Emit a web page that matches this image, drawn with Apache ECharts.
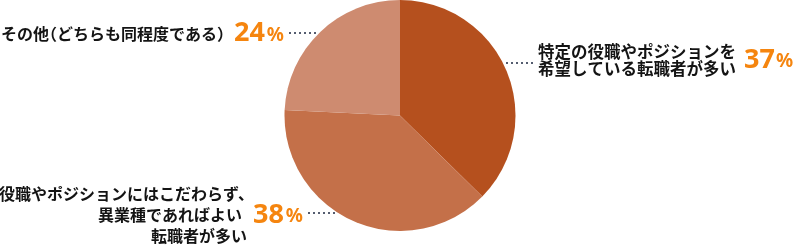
<!DOCTYPE html>
<html><head><meta charset="utf-8">
<script src="https://cdn.jsdelivr.net/npm/echarts@6/dist/echarts.min.js"></script>
<style>html,body{margin:0;padding:0;background:#fff}#c{width:796px;height:245px}</style>
</head><body><div id="c"></div>
<script>
// ---- data ----
const categories = [
  '特定の役職やポジションを\n希望している転職者が多い',
  '役職やポジションにはこだわらず、\n異業種であればよい\n転職者が多い',
  'その他（どちらも同程度である）'
];
const values = [37, 38, 24];
const unit = '%';
const sliceColors = ['#b5501e', '#c47049', '#ce8b70'];

// ---- style / layout ----
const CX = 400, CY = 115.5, R = 115.5;
const ORANGE = '#f5850f';
const TEXT = '#141414';
const JP = '"Noto Sans CJK JP", "Noto Sans", sans-serif';
const NUM = '"Noto Sans", "Liberation Sans", sans-serif';
const LINE_GAP = 3, LINE_LEN = 27, LABEL_GAP = 5;
const layoutCfg = [
  { side: 1, lineY: 63, labelY: 60 },
  { side: -1, lineY: 213, labelY: 215 },
  { side: -1, lineY: 33, labelY: 33.5 }
];

function tok(name, s) {
  return ('{' + name + '|' + s.replace(/（/g, '}{lp|（}{' + name + '|').replace(/）/g, '}{rp|）}{' + name + '|') + '}')
    .replace(new RegExp('\\{' + name + '\\|\\}', 'g'), '');
}
function pct(i, suffix) {
  return '{v' + suffix + '|' + values[i] + '}{p' + suffix + '|' + unit + '}';
}
const formatters = [
  (L, i) => tok('nr', L[0]) + '\n{sz| }' + pct(i, 'z') + '\n' + tok('nr', L[1]),
  (L, i) => tok('nb', L[0]) + '{s1| }\n' + tok('nb', L[1]) + '{g2| }' + pct(i, '') + '\n' + tok('nb', L[2]) + '{s3| }',
  (L, i) => tok('nt', L[0]) + pct(i, '')
];
const labelLH = [17, 21, 26];

const rich = {
  nr: { fontFamily: JP, fontSize: 16.5, fontWeight: 'bold', color: TEXT, lineHeight: 17 },
  nb: { fontFamily: JP, fontSize: 16, fontWeight: 'bold', color: TEXT, lineHeight: 21 },
  nt: { fontFamily: JP, fontSize: 16, fontWeight: 'bold', color: TEXT, lineHeight: 26 },
  lp: { fontFamily: JP, fontSize: 16, fontWeight: 'bold', color: TEXT, width: 8 },
  rp: { fontFamily: JP, fontSize: 16, fontWeight: 'bold', color: TEXT },
  v: { fontFamily: NUM, fontSize: 27, fontWeight: 'bold', color: ORANGE, width: 32 },
  p: { fontFamily: NUM, fontSize: 19, fontWeight: 'bold', color: ORANGE, width: 19, padding: [4, 0, 0, 0] },
  vz: { fontFamily: NUM, fontSize: 27, fontWeight: 'bold', color: ORANGE, width: 32, lineHeight: 0 },
  pz: { fontFamily: NUM, fontSize: 19, fontWeight: 'bold', color: ORANGE, width: 19, padding: [4, 0, 0, 0], lineHeight: 0 },
  sz: { fontSize: 10, width: 206, lineHeight: 0 },
  s1: { fontSize: 10, width: 49 },
  s3: { fontSize: 10, width: 56 },
  g2: { fontSize: 10, width: 10 }
};

const chart = echarts.init(document.getElementById('c'), null, { renderer: 'canvas' });
chart.setOption({
  animation: false,
  series: [{
    type: 'pie',
    center: [CX, CY],
    radius: R,
    startAngle: 90,
    clockwise: true,
    avoidLabelOverlap: false,
    silent: true,
    emphasis: { disabled: true },
    data: values.map((v, i) => ({
      value: v,
      name: categories[i],
      itemStyle: { color: sliceColors[i] },
      label: { formatter: formatters[i](categories[i].split('\n'), i), lineHeight: labelLH[i] }
    })),
    label: { show: true, position: 'outside', width: 340, overflow: 'none', rich: rich },
    labelLine: { show: true, length: 0, length2: 10, lineStyle: { color: '#555d70', width: 2, type: [2, 3] } },
    labelLayout: function (params) {
      const c = layoutCfg[params.dataIndex];
      const dy = c.lineY - CY;
      const edge = CX + c.side * Math.sqrt(R * R - dy * dy);
      const x0 = Math.round(edge + c.side * LINE_GAP);
      const x1 = x0 + c.side * LINE_LEN;
      return {
        x: x1 + c.side * LABEL_GAP,
        y: c.labelY,
        align: c.side > 0 ? 'left' : 'right',
        verticalAlign: 'middle',
        labelLinePoints: [[x0, c.lineY], [x0, c.lineY], [x1, c.lineY]]
      };
    }
  }]
});
</script>
</body></html>
